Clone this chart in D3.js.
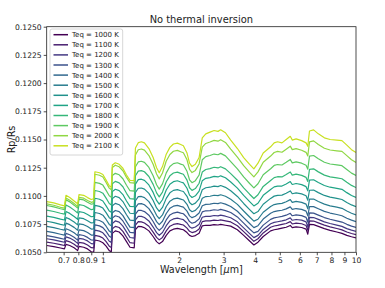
<!DOCTYPE html>
<html><head><meta charset="utf-8">
<script src="https://cdn.jsdelivr.net/npm/d3@7"></script>
<style>body{margin:0;background:#fff}svg{display:block}text{font-family:"DejaVu Sans",sans-serif}</style>
</head><body><svg id="c" width="385" height="288"></svg>
<script>
const wavelength = [0.60,0.64,0.68,0.705,0.715,0.74,0.77,0.795,0.805,0.84,0.87,0.90,0.92,0.93,0.97,1.00,1.03,1.06,1.08,1.09,1.12,1.16,1.20,1.24,1.28,1.33,1.345,1.38,1.42,1.46,1.52,1.58,1.63,1.67,1.72,1.78,1.84,1.90,1.97,2.03,2.08,2.15,2.20,2.25,2.32,2.40,2.47,2.55,2.65,2.75,2.85,2.92,3.05,3.2,3.4,3.6,3.8,3.95,4.1,4.3,4.6,4.75,4.9,5.1,5.3,5.5,5.6,5.8,6.1,6.35,6.45,6.55,6.8,7.1,7.5,7.9,8.4,8.8,9.2,9.6,10.0];
const teq1000 = [0.10560,0.10550,0.10538,0.10530,0.10570,0.10560,0.10540,0.10515,0.10552,0.10545,0.10530,0.10505,0.10502,0.10609,0.10600,0.10585,0.10555,0.10515,0.10505,0.10668,0.10690,0.10680,0.10645,0.10595,0.10545,0.10540,0.10700,0.10730,0.10728,0.10718,0.10690,0.10640,0.10595,0.10575,0.10595,0.10650,0.10690,0.10705,0.10712,0.10705,0.10700,0.10675,0.10650,0.10640,0.10648,0.10668,0.10735,0.10740,0.10738,0.10745,0.10742,0.10748,0.10740,0.10732,0.10700,0.10650,0.10600,0.10565,0.10590,0.10640,0.10690,0.10700,0.10705,0.10715,0.10722,0.10738,0.10718,0.10725,0.10720,0.10705,0.10660,0.10748,0.10745,0.10730,0.10710,0.10695,0.10680,0.10668,0.10650,0.10638,0.10628];
const teq1100 = [0.10590,0.10580,0.10568,0.10560,0.10604,0.10593,0.10572,0.10547,0.10588,0.10581,0.10565,0.10541,0.10539,0.10650,0.10641,0.10626,0.10594,0.10554,0.10543,0.10709,0.10730,0.10720,0.10685,0.10635,0.10585,0.10580,0.10741,0.10772,0.10770,0.10760,0.10731,0.10679,0.10632,0.10610,0.10632,0.10690,0.10731,0.10747,0.10754,0.10747,0.10742,0.10714,0.10686,0.10675,0.10683,0.10706,0.10772,0.10779,0.10778,0.10785,0.10782,0.10788,0.10779,0.10769,0.10735,0.10683,0.10633,0.10597,0.10620,0.10672,0.10722,0.10733,0.10738,0.10747,0.10755,0.10772,0.10751,0.10759,0.10753,0.10738,0.10694,0.10779,0.10777,0.10761,0.10741,0.10726,0.10711,0.10699,0.10680,0.10667,0.10657];
const teq1200 = [0.10620,0.10610,0.10597,0.10589,0.10637,0.10626,0.10604,0.10579,0.10623,0.10616,0.10601,0.10577,0.10575,0.10697,0.10688,0.10673,0.10640,0.10598,0.10588,0.10756,0.10778,0.10767,0.10732,0.10681,0.10631,0.10626,0.10787,0.10819,0.10818,0.10808,0.10778,0.10724,0.10674,0.10651,0.10675,0.10736,0.10779,0.10796,0.10803,0.10795,0.10789,0.10760,0.10727,0.10714,0.10724,0.10749,0.10811,0.10819,0.10818,0.10826,0.10823,0.10829,0.10820,0.10806,0.10770,0.10717,0.10666,0.10630,0.10650,0.10703,0.10753,0.10765,0.10771,0.10779,0.10788,0.10805,0.10784,0.10791,0.10785,0.10770,0.10726,0.10810,0.10808,0.10792,0.10770,0.10755,0.10741,0.10730,0.10710,0.10696,0.10685];
const teq1300 = [0.10648,0.10637,0.10624,0.10616,0.10668,0.10656,0.10633,0.10608,0.10656,0.10649,0.10632,0.10609,0.10608,0.10743,0.10734,0.10719,0.10685,0.10643,0.10632,0.10803,0.10824,0.10813,0.10778,0.10726,0.10677,0.10672,0.10838,0.10871,0.10871,0.10861,0.10829,0.10773,0.10719,0.10695,0.10721,0.10787,0.10831,0.10848,0.10856,0.10847,0.10842,0.10809,0.10772,0.10758,0.10768,0.10796,0.10858,0.10868,0.10869,0.10877,0.10873,0.10880,0.10870,0.10853,0.10814,0.10759,0.10707,0.10672,0.10686,0.10741,0.10792,0.10805,0.10811,0.10818,0.10829,0.10846,0.10824,0.10832,0.10825,0.10810,0.10767,0.10849,0.10847,0.10830,0.10808,0.10793,0.10779,0.10768,0.10748,0.10732,0.10720];
const teq1400 = [0.10685,0.10674,0.10660,0.10652,0.10709,0.10696,0.10673,0.10648,0.10699,0.10692,0.10676,0.10653,0.10653,0.10791,0.10782,0.10767,0.10731,0.10688,0.10676,0.10850,0.10871,0.10860,0.10825,0.10772,0.10723,0.10719,0.10896,0.10930,0.10931,0.10921,0.10887,0.10829,0.10772,0.10745,0.10775,0.10844,0.10890,0.10909,0.10916,0.10907,0.10901,0.10865,0.10823,0.10807,0.10819,0.10849,0.10913,0.10925,0.10927,0.10935,0.10931,0.10939,0.10927,0.10906,0.10864,0.10807,0.10755,0.10719,0.10736,0.10795,0.10846,0.10861,0.10867,0.10873,0.10885,0.10903,0.10880,0.10888,0.10881,0.10865,0.10823,0.10905,0.10905,0.10886,0.10863,0.10848,0.10835,0.10824,0.10802,0.10785,0.10772];
const teq1500 = [0.10730,0.10719,0.10704,0.10696,0.10759,0.10745,0.10721,0.10696,0.10752,0.10745,0.10728,0.10706,0.10708,0.10853,0.10844,0.10829,0.10791,0.10747,0.10736,0.10913,0.10934,0.10922,0.10887,0.10833,0.10785,0.10780,0.10957,0.10993,0.10995,0.10985,0.10949,0.10889,0.10828,0.10799,0.10831,0.10906,0.10953,0.10973,0.10980,0.10971,0.10964,0.10925,0.10877,0.10860,0.10872,0.10907,0.10979,0.10994,0.10997,0.11006,0.11002,0.11010,0.10997,0.10971,0.10925,0.10866,0.10813,0.10776,0.10793,0.10855,0.10906,0.10923,0.10930,0.10934,0.10948,0.10967,0.10943,0.10951,0.10943,0.10927,0.10886,0.10971,0.10972,0.10951,0.10927,0.10912,0.10900,0.10890,0.10866,0.10846,0.10832];
const teq1600 = [0.10775,0.10763,0.10748,0.10740,0.10809,0.10794,0.10768,0.10743,0.10805,0.10798,0.10780,0.10760,0.10762,0.10916,0.10907,0.10892,0.10852,0.10807,0.10795,0.10976,0.10997,0.10985,0.10950,0.10895,0.10846,0.10842,0.11030,0.11068,0.11070,0.11060,0.11022,0.10959,0.10893,0.10862,0.10898,0.10978,0.11027,0.11049,0.11056,0.11046,0.11039,0.10996,0.10941,0.10922,0.10936,0.10974,0.11055,0.11072,0.11077,0.11087,0.11082,0.11092,0.11076,0.11045,0.10995,0.10933,0.10879,0.10842,0.10861,0.10926,0.10978,0.10998,0.11005,0.11007,0.11023,0.11044,0.11019,0.11027,0.11018,0.11001,0.10962,0.11050,0.11052,0.11029,0.11004,0.10989,0.10978,0.10968,0.10942,0.10920,0.10904];
const teq1700 = [0.10821,0.10810,0.10794,0.10786,0.10861,0.10845,0.10818,0.10793,0.10860,0.10853,0.10835,0.10815,0.10819,0.10979,0.10970,0.10955,0.10912,0.10866,0.10854,0.11038,0.11059,0.11047,0.11012,0.10955,0.10907,0.10904,0.11105,0.11144,0.11148,0.11138,0.11097,0.11031,0.10960,0.10927,0.10966,0.11052,0.11103,0.11126,0.11134,0.11123,0.11116,0.11068,0.11007,0.10986,0.11001,0.11043,0.11135,0.11156,0.11162,0.11173,0.11168,0.11178,0.11161,0.11123,0.11069,0.11004,0.10949,0.10911,0.10935,0.11005,0.11057,0.11080,0.11087,0.11087,0.11106,0.11127,0.11101,0.11110,0.11100,0.11082,0.11045,0.11140,0.11143,0.11119,0.11092,0.11077,0.11066,0.11058,0.11029,0.11004,0.10987];
const teq1800 = [0.10874,0.10862,0.10846,0.10838,0.10920,0.10902,0.10874,0.10849,0.10922,0.10915,0.10896,0.10878,0.10883,0.11048,0.11039,0.11024,0.10980,0.10932,0.10920,0.11108,0.11129,0.11116,0.11081,0.11023,0.10976,0.10972,0.11179,0.11220,0.11224,0.11214,0.11172,0.11102,0.11027,0.10991,0.11034,0.11125,0.11178,0.11203,0.11211,0.11200,0.11192,0.11140,0.11072,0.11049,0.11065,0.11112,0.11211,0.11234,0.11242,0.11254,0.11248,0.11259,0.11240,0.11197,0.11139,0.11071,0.11015,0.10977,0.11010,0.11084,0.11137,0.11162,0.11170,0.11168,0.11189,0.11212,0.11184,0.11193,0.11182,0.11164,0.11128,0.11235,0.11240,0.11213,0.11184,0.11169,0.11160,0.11152,0.11121,0.11093,0.11074];
const teq1900 = [0.10915,0.10903,0.10886,0.10878,0.10966,0.10947,0.10918,0.10893,0.10971,0.10964,0.10944,0.10926,0.10932,0.11120,0.11111,0.11096,0.11049,0.11001,0.10987,0.11180,0.11200,0.11187,0.11152,0.11094,0.11046,0.11043,0.11258,0.11301,0.11307,0.11297,0.11252,0.11179,0.11099,0.11060,0.11107,0.11204,0.11260,0.11286,0.11294,0.11282,0.11274,0.11218,0.11143,0.11117,0.11135,0.11185,0.11320,0.11348,0.11358,0.11371,0.11365,0.11377,0.11355,0.11304,0.11240,0.11168,0.11110,0.11071,0.11108,0.11188,0.11241,0.11270,0.11278,0.11274,0.11298,0.11323,0.11293,0.11302,0.11290,0.11271,0.11237,0.11352,0.11358,0.11329,0.11298,0.11283,0.11275,0.11268,0.11234,0.11202,0.11181];
const teq2000 = [0.10929,0.10917,0.10899,0.10891,0.10981,0.10962,0.10932,0.10907,0.10987,0.10980,0.10960,0.10943,0.10949,0.11192,0.11183,0.11168,0.11119,0.11069,0.11055,0.11252,0.11272,0.11258,0.11223,0.11164,0.11117,0.11114,0.11363,0.11409,0.11416,0.11406,0.11358,0.11281,0.11194,0.11151,0.11203,0.11309,0.11367,0.11396,0.11404,0.11391,0.11382,0.11320,0.11236,0.11207,0.11226,0.11283,0.11433,0.11465,0.11478,0.11492,0.11485,0.11498,0.11474,0.11415,0.11344,0.11268,0.11209,0.11169,0.11213,0.11299,0.11353,0.11385,0.11395,0.11387,0.11414,0.11441,0.11410,0.11419,0.11405,0.11386,0.11354,0.11479,0.11488,0.11455,0.11422,0.11407,0.11400,0.11395,0.11357,0.11320,0.11297];
const teq2100 = [0.10950,0.10938,0.10920,0.10912,0.11005,0.10985,0.10955,0.10930,0.11012,0.11005,0.10985,0.10968,0.10975,0.11214,0.11205,0.11190,0.11140,0.11090,0.11076,0.11274,0.11294,0.11280,0.11245,0.11185,0.11138,0.11135,0.11425,0.11472,0.11480,0.11470,0.11420,0.11340,0.11250,0.11205,0.11260,0.11370,0.11430,0.11460,0.11468,0.11455,0.11445,0.11380,0.11290,0.11260,0.11280,0.11340,0.11515,0.11550,0.11565,0.11580,0.11572,0.11586,0.11560,0.11495,0.11420,0.11340,0.11280,0.11240,0.11290,0.11380,0.11435,0.11470,0.11480,0.11470,0.11500,0.11528,0.11495,0.11505,0.11490,0.11470,0.11440,0.11575,0.11585,0.11550,0.11515,0.11500,0.11495,0.11490,0.11450,0.11410,0.11385];
const labels = ["Teq = 1000 K","Teq = 1100 K","Teq = 1200 K","Teq = 1300 K","Teq = 1400 K","Teq = 1500 K","Teq = 1600 K","Teq = 1700 K","Teq = 1800 K","Teq = 1900 K","Teq = 2000 K","Teq = 2100 K"];
const seriesValues = [teq1000,teq1100,teq1200,teq1300,teq1400,teq1500,teq1600,teq1700,teq1800,teq1900,teq2000,teq2100];
const xTicks = [0.7,0.8,0.9,1,2,3,4,5,6,7,8,9,10];
const xTickLabels = ["0.7","0.8","0.9","1","2","3","4","5","6","7","8","9","10"];
const yTicks = [0.1050,0.1075,0.1100,0.1125,0.1150,0.1175,0.1200,0.1225,0.1250];

const svg = d3.select("#c");
const m = {l:46.7, r:356, t:26.7, b:252.3};
const x = d3.scaleLog().domain([0.6,10]).range([m.l,m.r]);
const y = d3.scaleLinear().domain([0.105,0.125]).range([m.b,m.t]);
const color = i => d3.interpolateViridis(i/12);

svg.append("defs").append("clipPath").attr("id","clip").append("rect")
  .attr("x",m.l).attr("y",m.t).attr("width",m.r-m.l).attr("height",m.b-m.t);

const line = d3.line().x((d,i)=>x(wavelength[i])).y(d=>y(d));
const g = svg.append("g").attr("clip-path","url(#clip)");
seriesValues.forEach((vals,i)=>{
  g.append("path").datum(vals).attr("d",line).attr("fill","none")
   .attr("stroke",color(i)).attr("stroke-width",1.2).attr("stroke-linejoin","round");
});

const xa = svg.append("g").attr("transform",`translate(0,${m.b})`)
  .call(d3.axisBottom(x).tickValues(xTicks).tickFormat((d,i)=>xTickLabels[i]).tickSize(3).tickPadding(2));
const ya = svg.append("g").attr("transform",`translate(${m.l},0)`)
  .call(d3.axisLeft(y).tickValues(yTicks).tickFormat(d3.format(".4f")).tickSize(3).tickPadding(2));
[xa,ya].forEach(a=>{a.select(".domain").remove();a.selectAll("text").attr("font-size","7.6px").attr("fill","#222").attr("font-family","DejaVu Sans");a.selectAll("line").attr("stroke","#222").attr("stroke-width",0.8);});

svg.append("rect").attr("x",m.l).attr("y",m.t).attr("width",m.r-m.l).attr("height",m.b-m.t)
  .attr("fill","none").attr("stroke","#222").attr("stroke-width",0.8);

svg.append("text").attr("x",(m.l+m.r)/2).attr("y",22.5).attr("text-anchor","middle")
  .attr("font-size","9.9px").attr("fill","#222").text("No thermal inversion");
const xl = svg.append("text").attr("x",(m.l+m.r)/2).attr("y",273).attr("text-anchor","middle")
  .attr("font-size","9.6px").attr("fill","#222");
xl.append("tspan").text("Wavelength [");
xl.append("tspan").attr("font-style","italic").text("μ");
xl.append("tspan").text("m]");
svg.append("text").attr("transform",`translate(15,${(m.t+m.b)/2}) rotate(-90)`).attr("text-anchor","middle")
  .attr("font-size","9.6px").attr("fill","#222").text("Rp/Rs");

const lg = svg.append("g");
lg.append("rect").attr("x",50).attr("y",29).attr("width",72.7).attr("height",126).attr("rx",2)
  .attr("fill","#fff").attr("fill-opacity",0.8).attr("stroke","#ccc").attr("stroke-width",0.8);
labels.forEach((t,i)=>{
  const yy = 34.7 + i*10.1;
  lg.append("line").attr("x1",53.5).attr("x2",68).attr("y1",yy).attr("y2",yy).attr("stroke",color(i)).attr("stroke-width",1.5);
  lg.append("text").attr("x",72).attr("y",yy+2.5).attr("font-size","7px").attr("fill","#222").text(t);
});
</script></body></html>
